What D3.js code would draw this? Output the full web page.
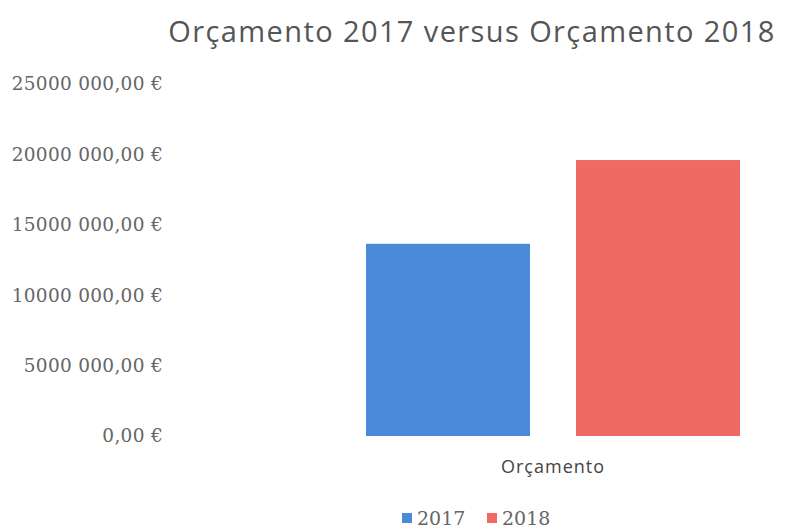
<!DOCTYPE html>
<html>
<head>
<meta charset="utf-8">
<script src="https://cdn.jsdelivr.net/npm/d3@7"></script>
<style>
  body { margin: 0; background: #fff; }
  .title { font-family: 'Open Sans', sans-serif; font-size: 29px; fill: #555; letter-spacing: 1.4px; }
  .y.axis text { font-family: 'DejaVu Serif', serif; font-size: 18.5px; fill: #666; letter-spacing: 0.3px; }
  .x.axis text { font-family: 'Open Sans', sans-serif; font-size: 18px; fill: #444; letter-spacing: 1px; }
  .legend text { font-family: 'DejaVu Serif', serif; font-size: 19px; fill: #666; }
</style>
</head>
<body>
<svg width="785" height="530"></svg>
<script>
var categories = ['Orçamento'];
var series = ['2017', '2018'];
var values2017 = [13650000];
var values2018 = [19600000];
var yTicks = [0, 5000000, 10000000, 15000000, 20000000, 25000000];
var colors = ['#4a8ad8', '#ee6a63'];

var svg = d3.select('svg');

// scales
var yScale = d3.scaleLinear().domain([0, 25000000]).range([436, 84]);
var x0 = d3.scaleBand().domain(categories).range([366, 740]);
var x1 = d3.scaleBand().domain(series).range([0, x0.bandwidth()]).paddingInner(46 / 210);

function fmt(v) {
    // "25000 000,00 €" style
    var s = Math.round(v).toString();
    if (s === '0') return '0,00 €';
    var head = s.slice(0, s.length - 3), tail = s.slice(s.length - 3);
    return head + ' ' + tail + ',00 €';
}

svg.append('text')
    .attr('class', 'title')
    .attr('x', 472)
    .attr('y', 42)
    .attr('text-anchor', 'middle')
    .text('Orçamento 2017 versus Orçamento 2018');

var yAxis = svg.append('g').attr('class', 'y axis')
    .attr('transform', 'translate(163,0)')
    .call(d3.axisLeft(yScale).tickValues(yTicks).tickSize(0).tickPadding(0).tickFormat(fmt));
yAxis.select('.domain').remove();

var rows = categories.map(function(c, i) {
    return { cat: c, vals: [values2017[i], values2018[i]] };
});

var groups = svg.selectAll('.grp')
    .data(rows)
    .enter()
    .append('g')
    .attr('class', 'grp')
    .attr('transform', function(d) { return 'translate(' + x0(d.cat) + ',0)'; });

groups.selectAll('rect')
    .data(function(d) { return d.vals.map(function(v, j) { return { s: series[j], v: v, c: colors[j] }; }); })
    .enter()
    .append('rect')
    .attr('x', function(d) { return x1(d.s); })
    .attr('y', function(d) { return yScale(d.v); })
    .attr('width', x1.bandwidth())
    .attr('height', function(d) { return yScale(0) - yScale(d.v); })
    .attr('fill', function(d) { return d.c; });

var xAxis = svg.append('g').attr('class', 'x axis')
    .attr('transform', 'translate(0,436)')
    .call(d3.axisBottom(x0).tickSize(0).tickPadding(24));
xAxis.select('.domain').remove();

// legend
var legend = svg.append('g').attr('class', 'legend');
var lx = [402, 487];
series.forEach(function(s, i) {
    legend.append('rect')
        .attr('x', lx[i]).attr('y', 513)
        .attr('width', 10).attr('height', 10)
        .attr('fill', colors[i]);
    legend.append('text')
        .attr('x', lx[i] + 15).attr('y', 525)
        .text(s);
});
</script>
</body>
</html>
